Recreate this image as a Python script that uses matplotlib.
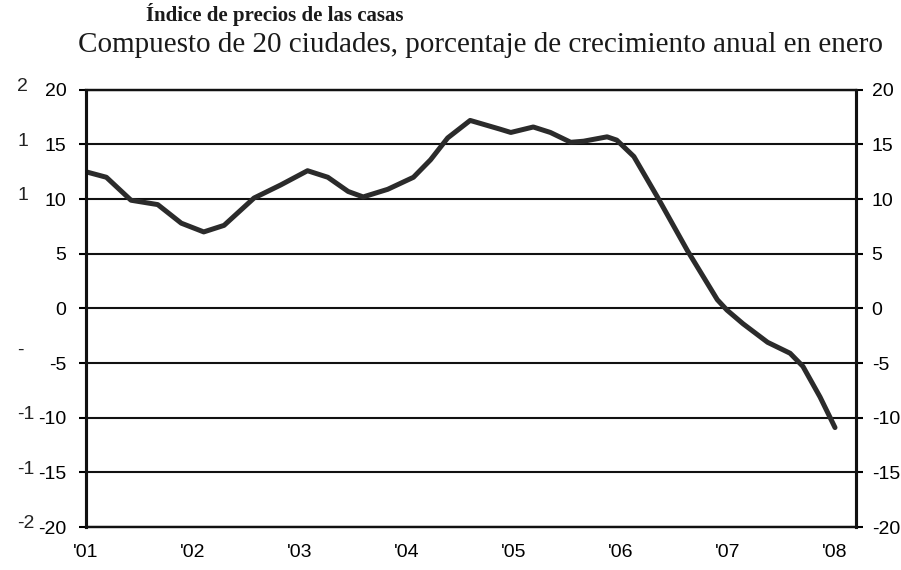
import matplotlib.pyplot as plt

# fecha (años decimales) y crecimiento anual (%)
fechas = [2001.00, 2001.19, 2001.42, 2001.67, 2001.89, 2002.10, 2002.29, 2002.57,
          2002.82, 2003.07, 2003.26, 2003.45, 2003.59, 2003.82, 2004.06, 2004.22,
          2004.38, 2004.59, 2004.87, 2004.97, 2005.18, 2005.34, 2005.53, 2005.65,
          2005.87, 2005.96, 2006.12, 2006.34, 2006.62, 2006.90, 2006.99, 2007.14,
          2007.37, 2007.58, 2007.70, 2007.86, 2008.00]
crecimiento = [12.5, 12.0, 9.9, 9.5, 7.8, 7.0, 7.6, 10.1,
               11.3, 12.6, 12.0, 10.7, 10.2, 10.9, 12.0, 13.6,
               15.6, 17.2, 16.4, 16.1, 16.6, 16.1, 15.2, 15.3,
               15.7, 15.4, 13.9, 10.2, 5.3, 0.8, -0.15, -1.4,
               -3.1, -4.1, -5.3, -8.1, -10.9]

anios = [2001, 2002, 2003, 2004, 2005, 2006, 2007, 2008]
etiquetas_x = ["'01", "'02", "'03", "'04", "'05", "'06", "'07", "'08"]
ticks_y = [-20, -15, -10, -5, 0, 5, 10, 15, 20]

# restos del gráfico vecino en el escaneo
restos = ["2", "1", "1", "-", "-1", "-1", "-2"]
restos_y = [20.3, 15.3, 10.3, -3.8, -9.7, -14.7, -19.7]

plt.rcParams['font.family'] = ['Liberation Sans', 'DejaVu Sans']

fig = plt.figure(figsize=(9.01, 5.70), dpi=100)
ax = fig.add_axes([0.0955, 0.0754, 0.855, 0.767])

for v in ticks_y:
    ax.axhline(v, color='#111111', lw=1.5, zorder=1)

ax.plot(fechas, crecimiento, color='#2b2b2b', lw=3.6, solid_capstyle='round',
        solid_joinstyle='round', zorder=3)

ax.set_xlim(2001, 2008.2)
ax.set_ylim(-20, 20)
ax.set_xticks(anios)
ax.set_xticklabels(etiquetas_x, fontsize=14)
ax.tick_params(axis='x', length=0, pad=12)
ax.set_yticks(ticks_y)
ax.set_yticklabels([str(v) for v in ticks_y], fontsize=14)
ax.tick_params(axis='y', length=5, width=1.5, direction='out', pad=9)

ax2 = ax.twinx()
ax2.set_ylim(-20, 20)
ax2.set_yticks(ticks_y)
ax2.set_yticklabels([str(v) for v in ticks_y], fontsize=14)
ax2.tick_params(axis='y', length=5, width=1.5, direction='out', pad=6)

for a in (ax, ax2):
    for lado in ['left', 'right']:
        a.spines[lado].set_linewidth(2.2)
    for lado in ['top', 'bottom']:
        a.spines[lado].set_linewidth(1.6)
    for s in a.spines.values():
        s.set_color('#111111')

for t, v in zip(restos, restos_y):
    ax.text(-0.089, v, t, transform=ax.get_yaxis_transform(), ha='left', va='center',
            fontsize=14, color='#222222', clip_on=False)

fig.text(146 / 901, 1 - 14 / 570, 'Índice de precios de las casas', family='Liberation Serif',
         fontweight='bold', fontsize=15, ha='left', va='center', color='#1a1a1a')
fig.text(78 / 901, 1 - 45 / 570, 'Compuesto de 20 ciudades, porcentaje de crecimiento anual en enero',
         family='Liberation Serif', fontsize=21, ha='left', va='center', color='#1a1a1a')

fig.savefig('out.png', dpi=100)
